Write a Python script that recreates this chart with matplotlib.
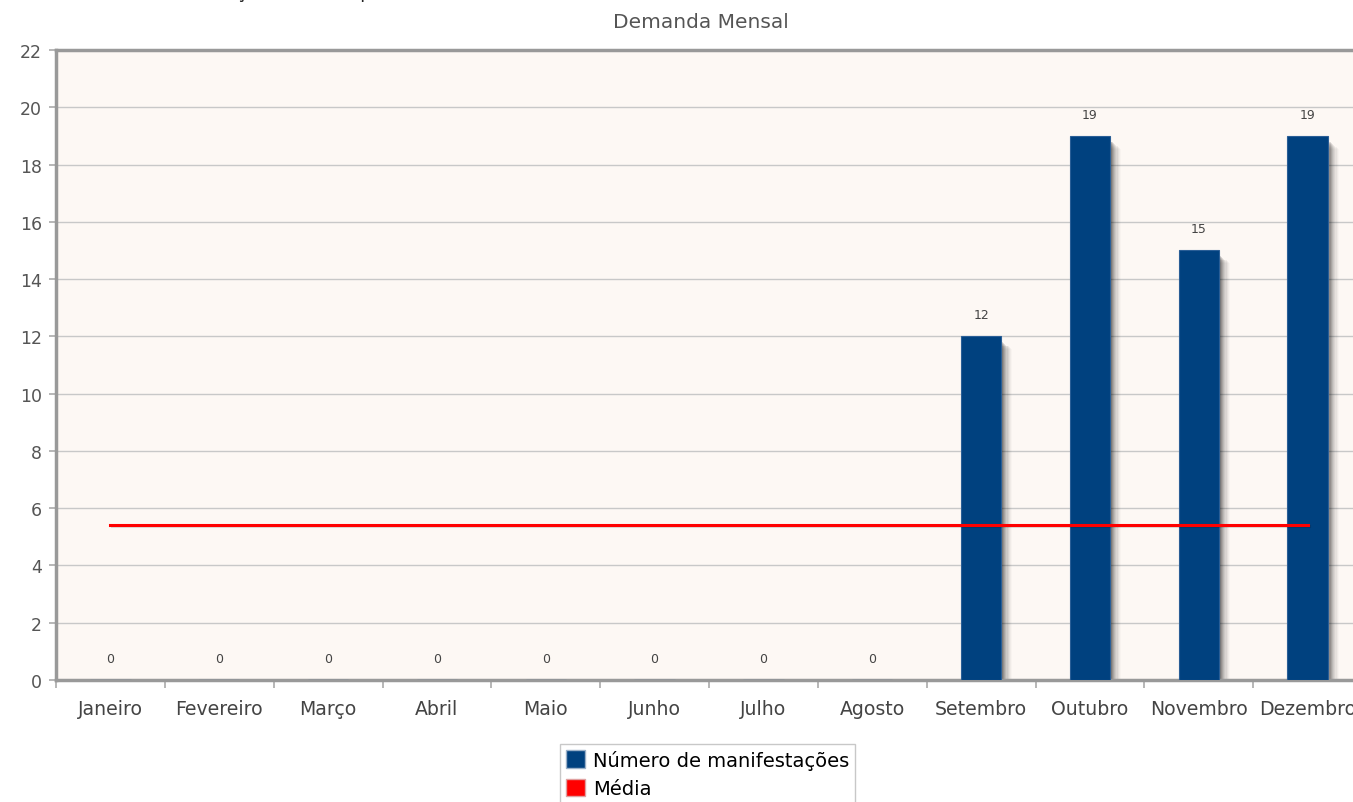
import matplotlib
matplotlib.use("Agg")
import matplotlib.pyplot as plt
from matplotlib.patches import Patch
import numpy as np

months = ["Janeiro", "Fevereiro", "Março", "Abril", "Maio", "Junho", "Julho",
          "Agosto", "Setembro", "Outubro", "Novembro", "Dezembro"]
values = [0, 0, 0, 0, 0, 0, 0, 0, 12, 19, 15, 19]
media = sum(values) / len(values)
yticks = list(range(0, 23, 2))

W, H = 1353, 803
fig = plt.figure(figsize=(W / 100, H / 100), dpi=100)
fig.patch.set_facecolor("white")

left = 56 / W
right = 1362 / W
top = 1 - 51 / H
bottom = 1 - 681 / H
ax = fig.add_axes([left, bottom, right - left, top - bottom])
ax.set_facecolor("#fdf8f4")

x = np.arange(len(months))
bw = 0.37

# shadow
alphas = [0.14, 0.12, 0.10, 0.08, 0.06, 0.05, 0.04, 0.03, 0.02]
for i, a in enumerate(alphas):
    off = 0.015 + i * 0.011
    ax.bar(x + off, np.array(values) - 0.2 - i * 0.03, width=bw, bottom=0,
           color="black", alpha=a, zorder=2, linewidth=0)
ax.bar(x, values, width=bw, color="#00417f", zorder=3, linewidth=0.8,
       edgecolor="#2a5e96")

for xi, v in zip(x, values):
    ax.text(xi, v + 0.75, str(v), ha="center", va="center", fontsize=9,
            color="#444444", zorder=5)

ax.plot([x[0], x[-1]], [media, media], color="#ff0000", lw=2.2, zorder=4)
ax.plot([x[0] + 0.01, x[-1] + 0.01], [media - 0.05, media - 0.05],
        color="black", lw=2.2, alpha=0.12, zorder=3.5)

ax.set_xlim(-0.5, 11.5)
ax.set_ylim(0, 22)
ax.set_yticks(yticks)
ax.set_yticklabels([str(t) for t in yticks], fontsize=12.5, color="#555555")
ax.yaxis.grid(True, color="#c8c8c8", lw=1)
ax.set_axisbelow(True)

ax.set_xticks(x)
ax.set_xticklabels(months, fontsize=13.6, color="#444444")
ax.tick_params(axis="x", length=0, pad=14)
ax.set_xticks(np.arange(-0.5, 12, 1), minor=True)
ax.tick_params(axis="x", which="minor", length=6, color="#aaaaaa", width=1.2)
ax.tick_params(axis="y", length=5, color="#aaaaaa", width=1.2, pad=5)

for s in ["left", "bottom", "top"]:
    ax.spines[s].set_color("#999999")
    ax.spines[s].set_linewidth(2.5)
ax.spines["right"].set_visible(False)

fig.text(701 / W, 1 - 22 / H, "Demanda Mensal", ha="center", va="center",
         fontsize=14.5, color="#555555")
fig.text(0.0, 1 - 2 / H, "(Quantidade de manifestações criadas, por mês)",
         ha="left", va="bottom", fontsize=13, color="#222222")

handles = [Patch(facecolor="#00417f", edgecolor="#9ab0c8", label="Número de manifestações"),
           Patch(facecolor="#ff0000", edgecolor="#e0a0a0", label="Média")]
leg = fig.legend(handles=handles, loc="upper left",
                 bbox_to_anchor=(560 / W, 1 - 745 / H), fontsize=14,
                 frameon=True, fancybox=False, handlelength=1.0, handleheight=1.0,
                 handletextpad=0.4, borderpad=0.3, labelspacing=0.45,
                 borderaxespad=0)
leg.get_frame().set_edgecolor("#bbbbbb")
leg.get_frame().set_linewidth(1)

fig.savefig("out.png", dpi=100)
